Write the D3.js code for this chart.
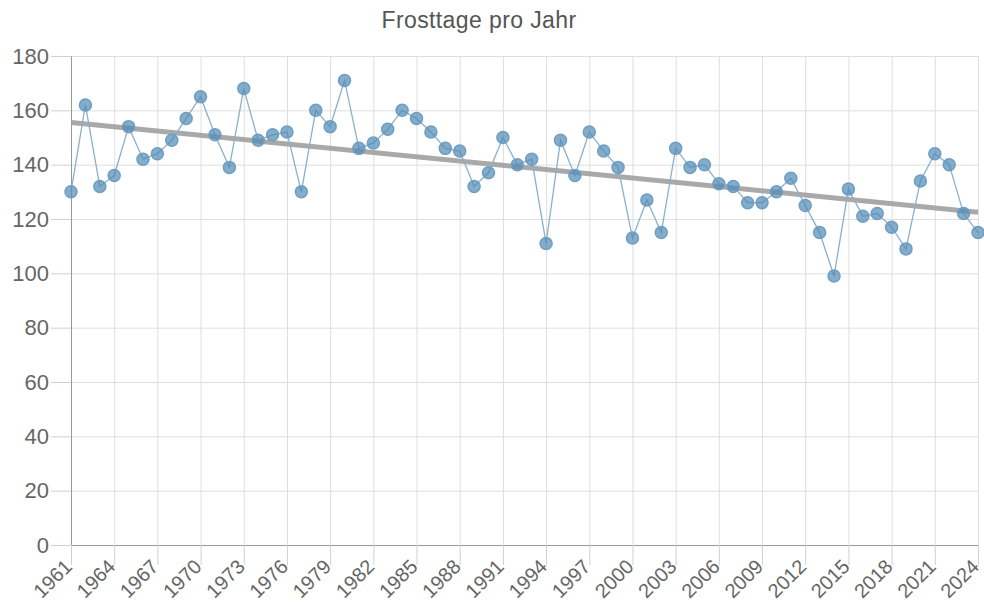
<!DOCTYPE html>
<html>
<head>
<meta charset="utf-8">
<script src="https://cdn.jsdelivr.net/npm/d3@7"></script>
<style>
    body { margin: 0; background: #fff; font-family: "Liberation Sans", Arial, sans-serif; }
    .grid line { stroke: #dedede; }
    .grid .domain { display: none; }
</style>
</head>
<body>
<div id="chart"></div>
<script>
    const years = d3.range(1961, 2025);
    const frostDays = [
        130, 162, 132, 136, 154, 142, 144, 149, 157, 165,
        151, 139, 168, 149, 151, 152, 130, 160, 154, 171,
        146, 148, 153, 160, 157, 152, 146, 145, 132, 137,
        150, 140, 142, 111, 149, 136, 152, 145, 139, 113,
        127, 115, 146, 139, 140, 133, 132, 126, 126, 130,
        135, 125, 115, 99, 131, 121, 122, 117, 109, 134,
        144, 140, 122, 115
    ];
    // Trendlinie (Anfang / Ende)
    const trendYears = [1961, 2024];
    const trendValues = [155.5, 122.5];
    const yTicks = [0, 20, 40, 60, 80, 100, 120, 140, 160, 180];
    const xTicks = years.filter(y => (y - 1961) % 3 === 0);

    const data = years.map((y, i) => ({ year: y, value: frostDays[i] }));

    const margin = { top: 56, right: 6, bottom: 69, left: 71 };
    const width = 984 - margin.left - margin.right;
    const height = 614 - margin.top - margin.bottom;

    const svg = d3.select("#chart")
        .append("svg")
        .attr("width", 984)
        .attr("height", 614);

    // Titel
    svg.append("text")
        .attr("x", 479)
        .attr("y", 28)
        .attr("text-anchor", "middle")
        .style("font-size", "23px")
        .style("letter-spacing", "0.4px")
        .style("fill", "#555")
        .text("Frosttage pro Jahr");

    const g = svg.append("g")
        .attr("transform", `translate(${margin.left},${margin.top})`);

    const x = d3.scaleLinear()
        .domain([1961, 2024])
        .range([0, width]);

    const y = d3.scaleLinear()
        .domain([0, 180])
        .range([height, 0]);

    // Gitter
    g.append("g")
        .attr("class", "grid")
        .call(d3.axisLeft(y).tickValues(yTicks).tickSize(-width).tickFormat(""));

    g.append("g")
        .attr("class", "grid")
        .call(d3.axisBottom(x).tickValues(xTicks).tickSize(height).tickFormat(""));

    // Eixo Y
    const yAxis = g.append("g")
        .call(d3.axisLeft(y).tickValues(yTicks).tickSize(20).tickPadding(2));
    yAxis.select(".domain").attr("stroke", "#999");
    yAxis.selectAll(".tick line").attr("stroke", "#d0d0d0");
    yAxis.selectAll("text")
        .style("font-size", "22px")
        .style("fill", "#666");

    // Eixo X
    const xAxis = g.append("g")
        .attr("transform", `translate(0,${height})`)
        .call(d3.axisBottom(x).tickValues(xTicks).tickFormat(d3.format("d")).tickSize(20).tickSizeOuter(0));
    xAxis.select(".domain").attr("stroke", "#999");
    xAxis.selectAll(".tick line").attr("stroke", "#d0d0d0");
    xAxis.selectAll("text")
        .attr("x", 0)
        .attr("y", 0)
        .attr("dx", 0)
        .attr("dy", "0.2em")
        .attr("transform", "translate(-1,20) rotate(-45)")
        .style("font-size", "20px")
        .style("fill", "#666")
        .style("text-anchor", "end");

    // Trendlinie
    g.append("line")
        .attr("x1", x(trendYears[0]))
        .attr("y1", y(trendValues[0]))
        .attr("x2", x(trendYears[1]))
        .attr("y2", y(trendValues[1]))
        .attr("stroke", "#a0a0a0")
        .attr("stroke-width", 5)
        .attr("stroke-opacity", 0.9);

    // Linie
    const line = d3.line()
        .x(d => x(d.year))
        .y(d => y(d.value));

    g.append("path")
        .datum(data)
        .attr("fill", "none")
        .attr("stroke", "#8ab0cc")
        .attr("stroke-width", 1.3)
        .attr("d", line);

    // Punkte
    g.selectAll(".dot")
        .data(data)
        .enter()
        .append("circle")
        .attr("class", "dot")
        .attr("cx", d => x(d.year))
        .attr("cy", d => y(d.value))
        .attr("r", 6)
        .attr("fill", "#4f8ab5")
        .attr("fill-opacity", 0.7)
        .attr("stroke", "#6f9ec2")
        .attr("stroke-width", 1.5);
</script>
</body>
</html>
